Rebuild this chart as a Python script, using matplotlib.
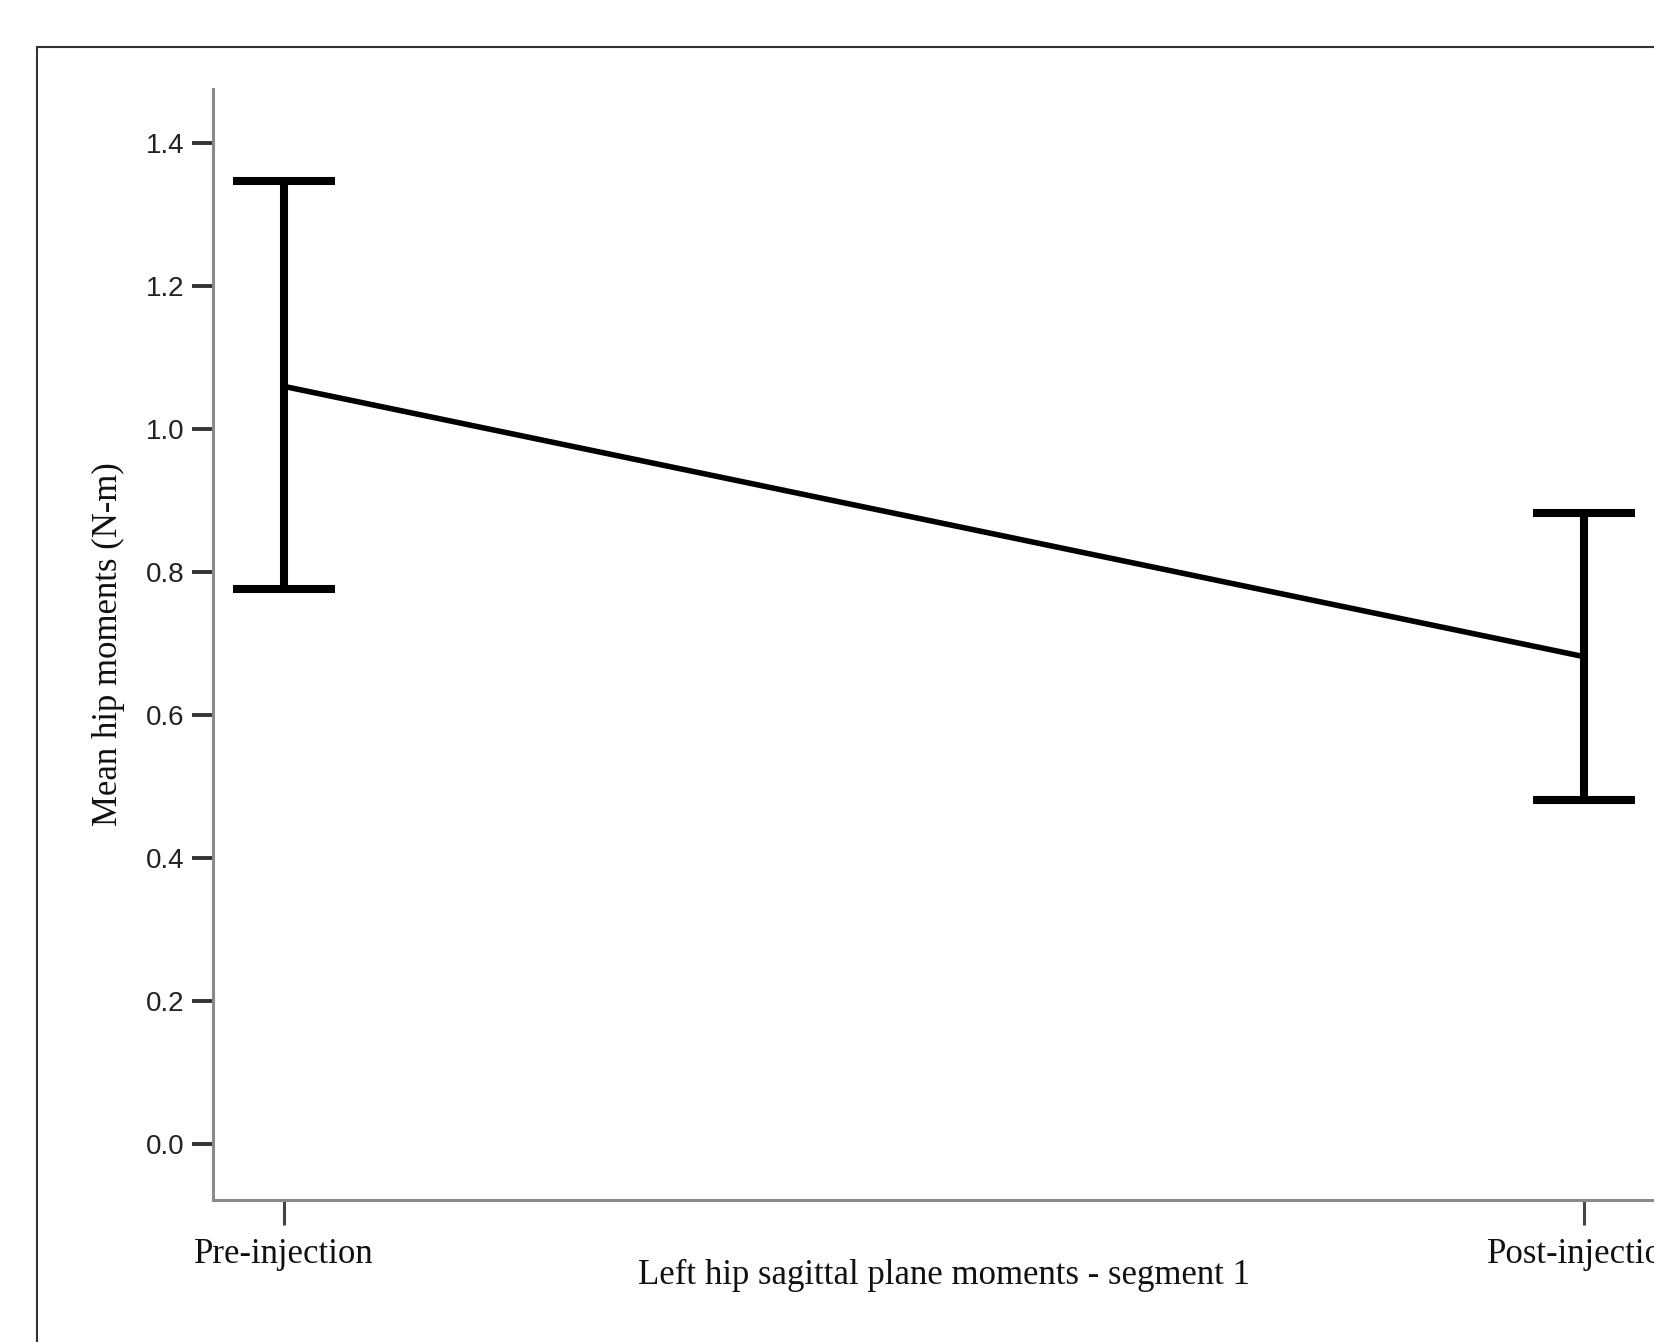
import matplotlib
matplotlib.use("Agg")
import matplotlib.pyplot as plt
from matplotlib.patches import Rectangle
import numpy as np

categories = ["Pre-injection", "Post-injection"]
means = np.array([1.060, 0.682])
upper = np.array([1.347, 0.8825])
lower = np.array([0.776, 0.4815])
yticks = [0.0, 0.2, 0.4, 0.6, 0.8, 1.0, 1.2, 1.4]

serif = ["Liberation Serif", "DejaVu Serif"]
sans = ["Liberation Sans", "DejaVu Sans"]

fig = plt.figure(figsize=(16.54, 13.42), dpi=100)
ax = fig.add_axes([0.1288, 0.1058, 0.8839, 0.8279])

x = np.arange(len(categories))
ax.errorbar(x, means, yerr=[means - lower, upper - means], color="black",
            linewidth=4.0, elinewidth=5.8, capsize=36.7, capthick=5.8,
            solid_capstyle="butt")

ax.set_xlim(-0.0546, 1.07)
ax.set_ylim(-0.078, 1.476)

ax.set_yticks(yticks)
ax.set_yticklabels([f"{v:.1f}" for v in yticks], family=sans, fontsize=20, color="#222222")
ax.set_xticks(x)
ax.set_xticklabels(categories, family=serif, fontsize=25, color="#111111")

ax.tick_params(axis="y", direction="out", length=15, width=2.8, color="#333333", pad=5.5)
ax.tick_params(axis="x", direction="out", length=18, width=2.2, color="#444444", pad=9)

for side in ["top", "right"]:
    ax.spines[side].set_visible(False)
for side in ["left", "bottom"]:
    ax.spines[side].set_color("#8a8a8a")
    ax.spines[side].set_linewidth(2.2)

ax.set_xlabel("Left hip sagittal plane moments - segment 1", family=serif,
              fontsize=25, color="#111111", va="baseline")
ax.xaxis.set_label_coords(0.5, -0.0756)
ax.set_ylabel("Mean hip moments (N-m)", family=serif, fontsize=25,
              color="#111111", va="center")
ax.yaxis.set_label_coords(-0.0714, 0.5)

# outer chart frame
fig.add_artist(Rectangle((37 / 1654, -0.2), 1.2, 0.2 + (1342 - 47) / 1342,
                         transform=fig.transFigure, fill=False,
                         edgecolor="#333333", linewidth=1.5))

fig.savefig("out.png", dpi=100)
